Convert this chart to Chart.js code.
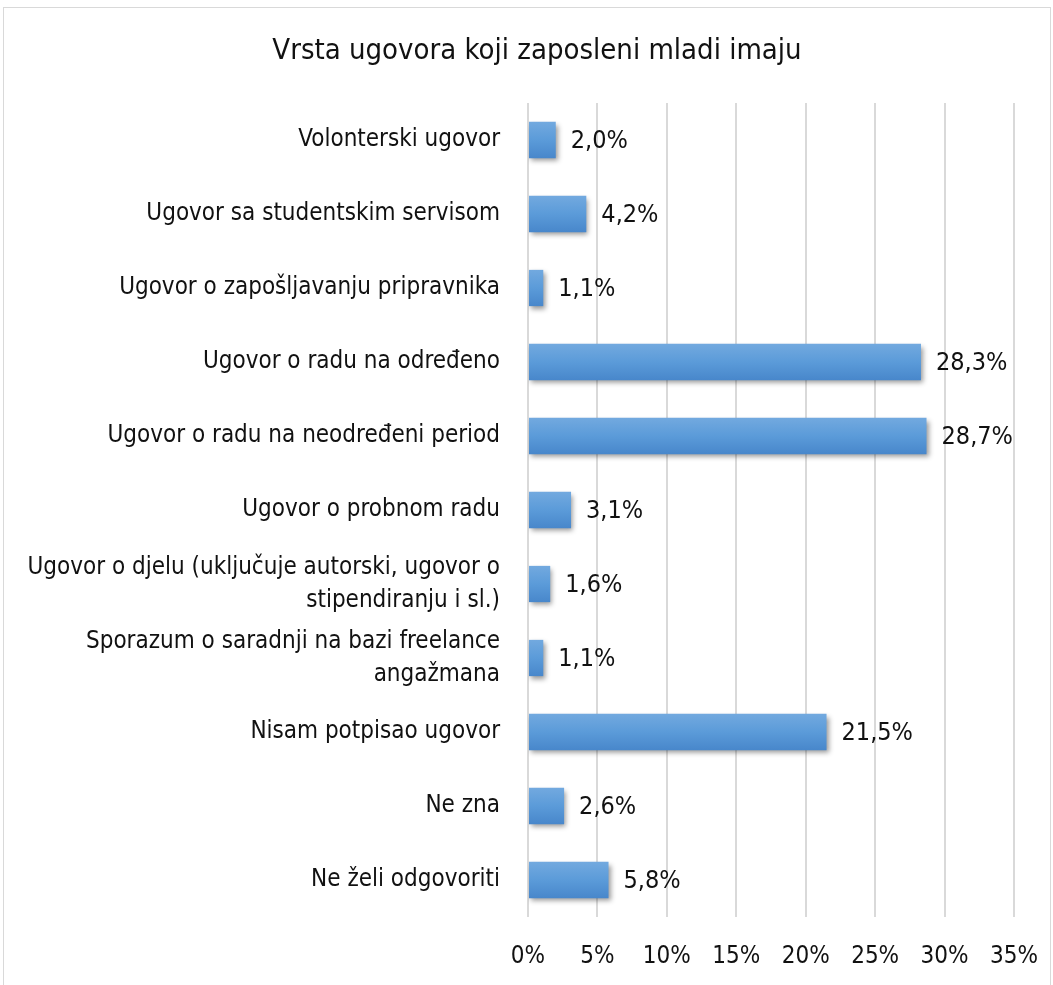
<!DOCTYPE html>
<html>
<head>
<meta charset="utf-8">
<script src="https://cdn.jsdelivr.net/npm/chart.js@4.4.0/dist/chart.umd.min.js"></script>
<style>
  html, body { margin: 0; padding: 0; background: #fff; }
  #wrap { position: relative; width: 1053px; height: 985px; }
  #frame { position: absolute; left: 3px; top: 7px; right: 2px; bottom: -2px; border: 1px solid #d9d9d9; }
  canvas { position: absolute; left: 0; top: 0; }
</style>
</head>
<body>
<div id="wrap">
  <div id="frame"></div>
  <canvas id="chart" width="1053" height="985"></canvas>
</div>
<script>
// podaci
const chartTitle = "Vrsta ugovora koji zaposleni mladi imaju";
const categories = [
  "Volonterski ugovor",
  "Ugovor sa studentskim servisom",
  "Ugovor o zapošljavanju pripravnika",
  "Ugovor o radu na određeno",
  "Ugovor o radu na neodređeni period",
  "Ugovor o probnom radu",
  ["Ugovor o djelu (uključuje autorski, ugovor o", "stipendiranju i sl.)"],
  ["Sporazum o saradnji na bazi freelance", "angažmana"],
  "Nisam potpisao ugovor",
  "Ne zna",
  "Ne želi odgovoriti"
];
const values = [2.0, 4.2, 1.1, 28.3, 28.7, 3.1, 1.6, 1.1, 21.5, 2.6, 5.8];
const axisMax = 35;
const axisStep = 5;

const fontFamily = "'DejaVu Sans Condensed', 'Liberation Sans Narrow', 'Roboto', sans-serif";
const textColor = "#111";

// gradijent za svaki bar (svjetlije gore, tamnije dole)
const barFill = (ctx) => {
  const chart = ctx.chart;
  const y = chart.scales.y;
  if (!y || ctx.type !== "data") return "#5b9bd5";
  const c = y.getPixelForValue(ctx.dataIndex);
  if (!isFinite(c)) return "#5b9bd5";
  const g = chart.ctx.createLinearGradient(0, c - 18, 0, c + 18);
  g.addColorStop(0, "#72a9df");
  g.addColorStop(0.5, "#5b9bd9");
  g.addColorStop(1, "#4887cb");
  return g;
};

// sjenka ispod barova
const shadowPlugin = {
  id: "barShadow",
  beforeDatasetsDraw(chart) {
    const ctx = chart.ctx;
    ctx.save();
    ctx.shadowColor = "rgba(0,0,0,0.4)";
    ctx.shadowBlur = 5;
    ctx.shadowOffsetX = 2;
    ctx.shadowOffsetY = 3;
  },
  afterDatasetsDraw(chart) {
    chart.ctx.restore();
  }
};

// naslov i vrijednosti pored barova
const labelPlugin = {
  id: "valueLabels",
  afterDraw(chart) {
    const ctx = chart.ctx;
    const meta = chart.getDatasetMeta(0);
    ctx.save();
    ctx.fillStyle = textColor;
    ctx.textBaseline = "middle";
    ctx.textAlign = "center";
    ctx.font = "29px " + fontFamily;
    ctx.fillText(chartTitle, 537, 51);
    ctx.textAlign = "left";
    ctx.font = "25px " + fontFamily;
    meta.data.forEach((bar, i) => {
      const txt = values[i].toFixed(1).replace(".", ",") + "%";
      ctx.fillText(txt, bar.x + 15, bar.y + 1);
    });
    ctx.restore();
  }
};

new Chart(document.getElementById("chart"), {
  type: "bar",
  data: {
    labels: categories,
    datasets: [{
      data: values,
      backgroundColor: barFill,
      borderWidth: 0,
      barPercentage: 0.49,
      categoryPercentage: 1
    }]
  },
  options: {
    indexAxis: "y",
    responsive: false,
    animation: false,
    layout: { padding: { top: 103, right: 39, bottom: 6, left: 0 } },
    plugins: {
      legend: { display: false },
      tooltip: { enabled: false },
      title: { display: false }
    },
    scales: {
      x: {
        min: 0,
        max: axisMax,
        ticks: {
          stepSize: axisStep,
          color: textColor,
          font: { family: fontFamily, size: 24 },
          padding: 25,
          callback: (v) => v + "%"
        },
        grid: { color: "#d9d9d9", lineWidth: 2, drawTicks: false },
        border: { display: false },
        afterFit(scale) {
          scale.height = 62;
          scale.paddingLeft = 0;
          scale.paddingRight = 0;
        }
      },
      y: {
        ticks: {
          color: textColor,
          font: { family: fontFamily, size: 24, lineHeight: 1.38 },
          padding: 20
        },
        grid: { display: false },
        border: { display: false },
        afterFit(scale) { scale.width = 528; }
      }
    }
  },
  plugins: [shadowPlugin, labelPlugin]
});
</script>
</body>
</html>
